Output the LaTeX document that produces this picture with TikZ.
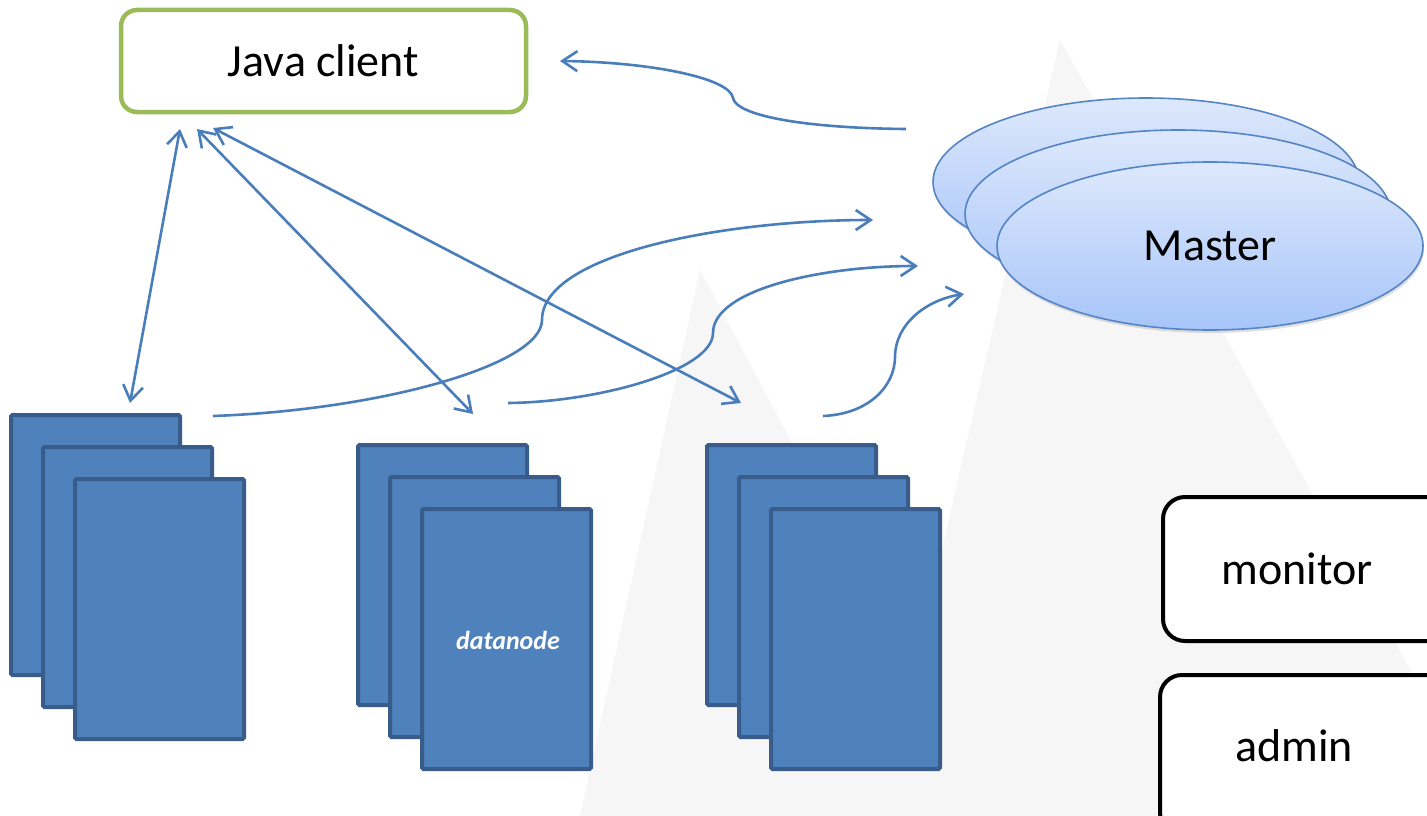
\documentclass[tikz,border=0pt]{standalone}
\usepackage{fontspec}
\setmainfont{Carlito}
\usetikzlibrary{arrows.meta,shapes.geometric,shadows}

\definecolor{linkblue}{HTML}{4A7EBB}
\definecolor{dnfill}{HTML}{4F81BD}
\definecolor{dnline}{HTML}{385D8A}
\definecolor{clientgreen}{HTML}{9BBB59}
\definecolor{mtop}{HTML}{DDE8FB}
\definecolor{mbottom}{HTML}{A7C5FA}
\definecolor{mline}{HTML}{5585C5}
\definecolor{wmark}{HTML}{F6F6F6}

\tikzset{
  link/.style={draw=linkblue, line width=2.6pt, -{Straight Barb[length=15pt,width=20pt,line width=2.6pt]}},
  biLink/.style={draw=linkblue, line width=2.6pt, {Straight Barb[length=15pt,width=20pt,line width=2.6pt]}-{Straight Barb[length=15pt,width=20pt,line width=2.6pt]}},
  dnbox/.style={draw=dnline, fill=dnfill, line width=4pt, rounded corners=1.5pt},
  masterEll/.style={ellipse, draw=mline, line width=1.6pt, top color=mtop, bottom color=mbottom,
    minimum width=426pt, minimum height=168pt, inner sep=0pt,
    drop shadow={shadow xshift=1pt, shadow yshift=-3pt, opacity=0.25}},
  toolbox/.style={draw=black, line width=4pt, rounded corners=22pt, fill=white,
    minimum width=290pt, inner sep=0pt, anchor=north west},
  txt/.style={font=\fontsize{46}{50}\selectfont, text=black}
}

\begin{document}
\begin{tikzpicture}[x=1pt,y=-1pt]
  % canvas
  \fill[white] (0,0) rectangle (1427,816);
  \useasboundingbox (0,0) rectangle (1427,816);

  % faint background watermark shapes
  \fill[wmark] (580,816) -- (700,270) -- (990,816) -- cycle;
  \fill[wmark] (880,816) -- (1060,40) -- (1427,700) -- (1427,816) -- cycle;

  % Java client
  \node[draw=clientgreen, line width=4.5pt, rounded corners=16pt, fill=white,
        minimum width=405pt, minimum height=102pt, inner sep=0pt, txt]
        (client) at (323.5,61) {Java client};

  % Master (three stacked ellipses)
  \node[masterEll] (m3) at (1146,182) {};
  \node[masterEll] (m2) at (1178,214) {};
  \node[masterEll, txt] (master) at (1210,246) {Master};

  % datanode stacks
  \foreach \nm/\x/\y in {a/11/415, b/358/445, c/707/445}{
    \draw[dnbox] (\x,\y) rectangle ++(169,260);
    \draw[dnbox] (\x+32,\y+32) rectangle ++(169,260);
    \draw[dnbox] (\x+64,\y+64) rectangle ++(169,260);
    \coordinate (\nm) at (\x+150,\y+195);
  }
  \node[text=white, font=\fontsize{26}{30}\selectfont\bfseries\itshape] (dn) at (b) {datanode};

  % monitor / admin (boxes run past the right edge)
  \node[toolbox, minimum height=144pt] (monitor) at (1161,495) {};
  \node[txt] (monLabel) at (1297,569) {monitor};
  \node[toolbox, minimum height=160pt] (admin) at (1158,673) {};
  \node[txt] (admLabel) at (1294,746) {admin};

  % connector end points
  \coordinate (mOut) at (906,129);
  \coordinate (cIn)  at (560,61);
  \coordinate (c1)   at (180,129);
  \coordinate (c2)   at (197,129);
  \coordinate (c3)   at (213,128);
  \coordinate (a1)   at (130,403);
  \coordinate (b1)   at (473,414);
  \coordinate (cc1)  at (741,403);
  \coordinate (aOut) at (213,416);
  \coordinate (bOut) at (508,403);
  \coordinate (cOut) at (823,416);
  \coordinate (mIn1) at (873,220);
  \coordinate (mIn2) at (918,266);
  \coordinate (mIn3) at (964,294);

  % master -> client
  \draw[link] (mOut) .. controls (800,128) and (736,115) .. (733,98)
              .. controls (730,78) and (650,62) .. (cIn);

  % client <-> datanodes
  \draw[biLink] (a1) -- (c1);
  \draw[biLink] (b1) -- (c2);
  \draw[biLink] (cc1) -- (c3);

  % datanodes -> master
  \draw[link] (aOut) .. controls (380,410) and (542,365) .. (542,320)
              .. controls (542,255) and (720,220) .. (mIn1);
  \draw[link] (bOut) .. controls (600,402) and (713,370) .. (713,333)
              .. controls (713,290) and (820,266) .. (mIn2);
  \draw[link] (cOut) .. controls (870,414) and (895,385) .. (895,357)
              .. controls (895,325) and (925,300) .. (mIn3);
\end{tikzpicture}
\end{document}
